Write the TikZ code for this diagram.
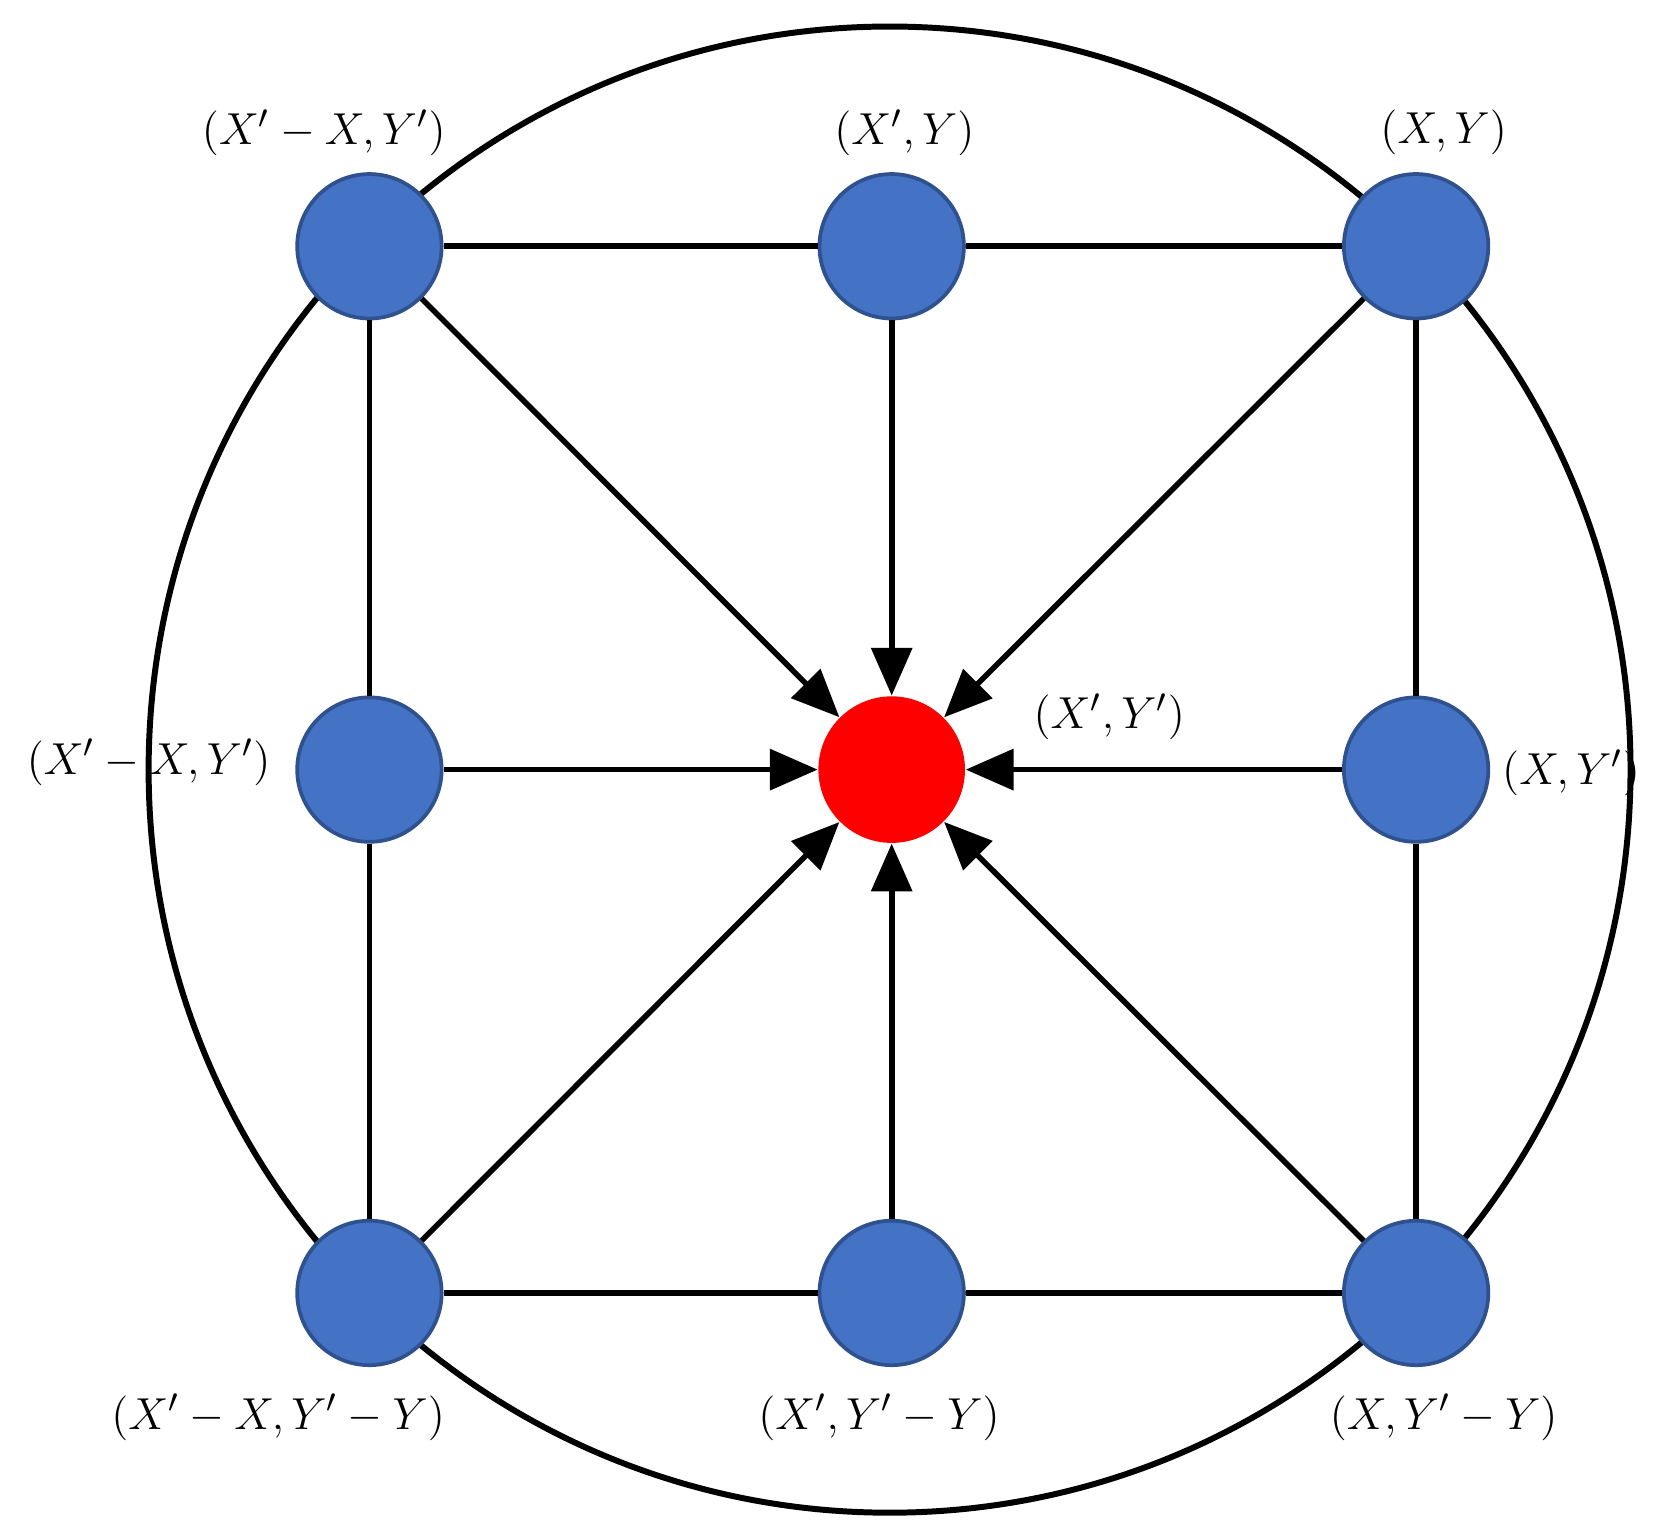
\documentclass[tikz,border=0pt]{standalone}
\usepackage{fontspec}
\setmainfont{Liberation Serif}
\usetikzlibrary{arrows.meta}
\definecolor{nodeblue}{HTML}{4472C4}
\definecolor{nodeedge}{HTML}{2F528F}
\begin{document}
\begin{tikzpicture}[x=0.01cm,y=-0.01cm,
  bn/.style={circle,fill=nodeblue,draw=nodeedge,line width=1pt,minimum size=1.36cm,inner sep=0pt},
  rn/.style={circle,fill=red,minimum size=1.38cm,inner sep=0pt},
  ln/.style={line width=1.5pt},
  ar/.style={line width=1.5pt,-{Triangle[length=0.45cm,width=0.38cm]}},
  lab/.style={font=\fontsize{13}{16}\selectfont}]
\useasboundingbox (0,0) rectangle (1560,1446);
\draw[line width=1.6pt] (838,725) ellipse [x radius=698, y radius=700];
\node[bn] (tl) at (348,232) {};
\node[bn] (tm) at (840,232) {};
\node[bn] (tr) at (1334,232) {};
\node[bn] (ml) at (348,725) {};
\node[rn] (c) at (840,725) {};
\node[bn] (mr) at (1334,725) {};
\node[bn] (bl) at (348,1218) {};
\node[bn] (bm) at (840,1218) {};
\node[bn] (br) at (1334,1218) {};
\draw[ln] (tl)--(tm); \draw[ln] (tm)--(tr);
\draw[ln] (bl)--(bm); \draw[ln] (bm)--(br);
\draw[ln] (tl)--(ml); \draw[ln] (ml)--(bl);
\draw[ln] (tr)--(mr); \draw[ln] (mr)--(br);
\foreach \n in {tl,tm,tr,ml,mr,bl,bm,br} \draw[ar] (\n)--(c);
\node[lab] (l1) at (305,125) {$(X'-X,Y')$};
\node[lab] (l2) at (852,125) {$(X',Y)$};
\node[lab] (l3) at (1360,125) {$(X,Y)$};
\node[lab] (l4) at (1045,675) {$(X',Y')$};
\node[lab] (l5) at (140,718) {$(X'-X,Y')$};
\node[lab] (l6) at (1480,728) {$(X,Y')$};
\node[lab] (l7) at (262,1335) {$(X'-X,Y'-Y)$};
\node[lab] (l8) at (828,1335) {$(X',Y'-Y)$};
\node[lab] (l9) at (1360,1335) {$(X,Y'-Y)$};
\end{tikzpicture}
\end{document}
